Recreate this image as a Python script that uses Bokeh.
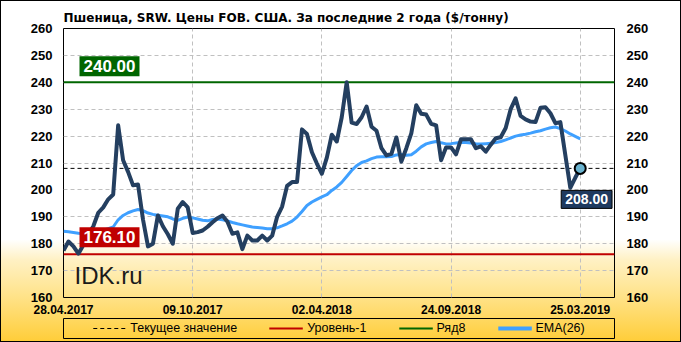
from bokeh.plotting import figure
from bokeh.layouts import column
from bokeh.models import Range1d, LinearAxis, FixedTicker, Label, Legend, LegendItem
from bokeh.embed import file_html
from bokeh.resources import INLINE

# ---------------- data ----------------
price = [
    177.5, 180.8, 179.0, 176.3, 179.5, 183.5, 186.5, 191.5, 193.5, 196.5,
    198.3, 224.0, 211.0, 206.7, 201.7, 202.0, 189.0, 179.0, 180.0, 190.5,
    186.5, 183.5, 180.0, 193.0, 195.5, 193.5, 184.0, 184.3, 184.9, 186.3,
    188.0, 189.5, 190.5, 188.2, 183.7, 184.2, 178.0, 183.0, 181.2, 181.2,
    183.0, 181.2, 183.0, 190.0, 193.8, 201.5, 202.9, 202.9, 222.5, 220.8,
    214.0, 209.8, 206.0, 212.0, 220.5, 218.0, 227.0, 240.0, 225.0, 224.5,
    227.0, 231.0, 223.5, 222.0, 215.5, 212.8, 213.4, 219.5, 210.5, 215.5,
    221.0, 231.5, 228.3, 228.0, 224.6, 224.0, 211.0, 215.8, 215.8, 213.2,
    218.8, 218.8, 218.8, 215.5, 216.2, 214.2, 216.8, 219.2, 219.6, 223.0,
    230.0, 234.0, 227.5, 226.2, 225.4, 225.2, 230.5, 230.7, 228.5, 224.8,
    225.2, 213.0, 200.8, 204.5, 208.0,
]
ema26 = [
    184.6, 184.4, 184.2, 183.9, 183.7, 183.8, 184.0, 184.4, 185.0, 185.6,
    186.2, 188.9, 190.5, 191.5, 192.2, 192.7, 192.3, 191.4, 190.9, 190.6,
    190.3, 190.0, 189.2, 188.7, 189.4, 189.9, 189.6, 189.2, 188.7, 188.5,
    189.0, 189.2, 188.9, 188.5, 187.9, 187.4, 187.0, 186.6, 186.2, 186.0,
    185.8, 185.6, 185.6, 185.9, 186.6, 187.4, 188.4, 189.9, 192.0, 194.2,
    195.5, 196.5, 197.4, 198.2, 199.8, 201.1, 202.8, 205.0, 207.2, 209.0,
    210.2, 210.8, 211.6, 212.2, 212.3, 212.3, 212.4, 213.0, 213.2, 212.9,
    213.1, 214.4, 216.0, 217.1, 217.6, 218.0, 217.5, 217.1, 217.2, 217.4,
    217.6, 217.6, 217.4, 217.2, 217.1, 217.2, 217.3, 217.6, 218.0, 218.6,
    219.3, 220.0, 220.4, 220.7, 221.1, 221.6, 222.0, 222.6, 223.1, 223.4,
    222.8, 221.9, 220.8, 219.9, 219.0,
]
x_index = list(range(len(price)))
x_tick_idx = [0, 26, 52, 78, 104]
x_tick_labels = ["28.04.2017", "09.10.2017", "02.04.2018", "24.09.2018", "25.03.2019"]
y_ticks = [160, 170, 180, 190, 200, 210, 220, 230, 240, 250, 260]
current_value = 208.00
level_1 = 176.10
ryad8 = 240.00
x_start, x_end = 0, 110.9
y_start, y_end = 160, 260

title_text = "Пшеница,  SRW. Цены FOB.  США. За последние 2 года ($/тонну)"
legend_labels = ["Текущее значение", "Уровень-1", "Ряд8", "EMA(26)"]

FONT = "Liberation Sans"

# style of each series (shared by chart and legend)
S_CUR = dict(line_color="black", line_width=1, line_dash="4 3")
S_LVL = dict(line_color="#c00000", line_width=2)
S_R8 = dict(line_color="#006600", line_width=2)
S_EMA = dict(line_color="#3fa0ff", line_width=3, line_join="round")
S_PRICE = dict(line_color="#243f60", line_width=4, line_join="round")

p = figure(width=681, height=318, output_backend="svg", toolbar_location=None,
           x_range=Range1d(x_start, x_end), y_range=Range1d(y_start, y_end),
           min_border_left=63, min_border_right=67, min_border_top=28,
           min_border_bottom=21)
p.background_fill_color = None
p.border_fill_color = None
p.outline_line_color = "black"
p.outline_line_width = 1

# title
p.title.text = title_text
p.title.align = "left"
p.title.text_font = "DejaVu Sans"
p.title.text_font_size = "12px"
p.title.text_font_style = "bold"
p.title.text_color = "#000000"
p.title.standoff = 8

# axes
xa = p.xaxis[0]
xa.ticker = FixedTicker(ticks=x_tick_idx)
xa.major_label_overrides = {i: t for i, t in zip(x_tick_idx, x_tick_labels)}
ya = p.yaxis[0]
ya.ticker = FixedTicker(ticks=y_ticks)
ry = LinearAxis(ticker=FixedTicker(ticks=y_ticks))
p.add_layout(ry, "right")
for ax in (xa, ya, ry):
    ax.axis_line_color = None
    ax.major_tick_line_color = None
    ax.minor_tick_line_color = None
    ax.major_tick_out = 0
    ax.major_tick_in = 0
    ax.major_label_text_font = FONT
    ax.major_label_text_font_style = "bold"
    ax.major_label_text_color = "#000000"
xa.major_label_text_font_size = "12px"
xa.major_label_standoff = 7
ya.major_label_text_font_size = "13px"
ry.major_label_text_font_size = "13px"
ya.major_label_standoff = 11
ry.major_label_standoff = 12

# grids
p.xgrid.ticker = FixedTicker(ticks=x_tick_idx)
p.ygrid.ticker = FixedTicker(ticks=y_ticks)
for g in (p.xgrid, p.ygrid):
    g.grid_line_color = "#c0c0c0"
    g.grid_line_dash = "4 3"
    g.grid_line_width = 1

# horizontal level lines
p.line([x_start, x_end], [current_value, current_value], **S_CUR)
p.line([x_start, x_end], [level_1, level_1], **S_LVL)
p.line([x_start, x_end], [ryad8, ryad8], **S_R8)

# series
p.line(x_index, ema26, **S_EMA)
p.line(x_index, price, **S_PRICE)
p.scatter([x_index[-1]], [price[-1]], size=11, marker="circle", fill_color="#6ab3cf",
          line_color="black", line_width=2)

# value labels
p.add_layout(Label(x=x_start, y=ryad8, x_offset=16, y_offset=6, text=f"{ryad8:.2f}",
                   anchor="bottom_left", text_font=FONT, text_font_size="17px",
                   text_font_style="bold", text_color="white",
                   background_fill_color="#006600", padding=4))
p.add_layout(Label(x=x_start, y=level_1, x_offset=16, y_offset=7, text=f"{level_1:.2f}",
                   anchor="bottom_left", text_font=FONT, text_font_size="17px",
                   text_font_style="bold", text_color="white",
                   background_fill_color="#c00000", padding=4))
p.add_layout(Label(x=x_index[-1], y=current_value, x_offset=-19, y_offset=-22,
                   text=f"{current_value:.2f}", anchor="top_left", text_font=FONT,
                   text_font_size="14px", text_font_style="bold", text_color="white",
                   background_fill_color="#1f3a5f", border_line_color="black",
                   border_line_width=1, padding=4))
p.add_layout(Label(x=x_start, y=y_start, x_offset=11, y_offset=9, text="IDK.ru",
                   anchor="bottom_left", text_font=FONT, text_font_size="24px",
                   text_color="#1a1a1a"))

# ---------------- legend strip (its frame is the legend box) ----------------
q = figure(width=681, height=24, output_backend="svg", toolbar_location=None,
           x_range=Range1d(0, 1), y_range=Range1d(0, 1),
           min_border_left=63, min_border_right=65, min_border_top=0,
           min_border_bottom=4)
q.axis.visible = False
q.grid.visible = False
q.outline_line_color = "black"
q.outline_line_width = 1
q.background_fill_color = None
q.border_fill_color = None
# legend samples: same series values, which lie outside this strip's 0..1 range
l_cur = q.line([x_start, x_end], [current_value, current_value], **S_CUR)
l_lvl = q.line([x_start, x_end], [level_1, level_1], **S_LVL)
l_r8 = q.line([x_start, x_end], [ryad8, ryad8], **S_R8)
l_ema = q.line(x_index, ema26, line_color="#3fa0ff", line_width=4)

legend = Legend(items=[
    LegendItem(label=legend_labels[0], renderers=[l_cur]),
    LegendItem(label=legend_labels[1], renderers=[l_lvl]),
    LegendItem(label=legend_labels[2], renderers=[l_r8]),
    LegendItem(label=legend_labels[3], renderers=[l_ema]),
], orientation="horizontal", location="center")
legend.label_text_font = FONT
legend.label_text_font_size = "12.5px"
legend.label_text_color = "#000000"
legend.glyph_width = 34
legend.glyph_height = 12
legend.label_standoff = 4
legend.spacing = 32
legend.padding = 0
legend.margin = 0
legend.border_line_color = None
legend.background_fill_alpha = 0
q.add_layout(legend, "center")

layout = column(p, q, spacing=0)
layout.styles = {
    "background": "linear-gradient(to bottom, #ffffff 0%, #ffffff 70%, #fff1c4 76%, #ffe287 87%, #ffcd38 100%)",
    "outline": "1px solid #000000",
    "outline-offset": "-1px",
}

open("out.html", "w").write(file_html(layout, INLINE))
